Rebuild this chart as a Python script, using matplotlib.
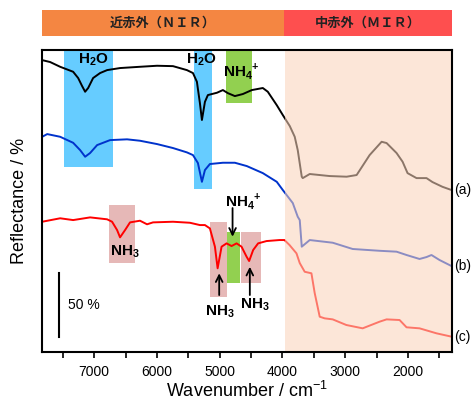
import numpy as np
import matplotlib
matplotlib.use("Agg")
import matplotlib.pyplot as plt

plt.rcParams['font.family'] = ['Liberation Sans', 'Noto Sans CJK JP']
plt.rcParams['mathtext.fontset'] = 'custom'
plt.rcParams['mathtext.rm'] = 'Liberation Sans'
plt.rcParams['mathtext.bf'] = 'Liberation Sans:bold'

# spectra (wavenumber / cm-1, reflectance in % incl. vertical offset)
wn_a = [7827, 7700, 7541, 7334, 7254, 7191, 7143, 7095, 7016, 6905, 6793, 6587,
        6269, 5998, 5744, 5522, 5426, 5363, 5315, 5283, 5235, 5188, 5044, 4949,
        4870, 4758, 4631, 4488, 4313, 4234, 4091, 3995, 3884, 3805, 3757, 3693,
        3677, 3566, 3248, 2978, 2819, 2612, 2421, 2342, 2183, 2087, 2008, 1865,
        1706, 1611, 1452, 1309]
refl_a = [228.1, 226.6, 222.9, 219.0, 214.1, 207.8, 203.4, 206.3, 214.1, 218.0,
          220.3, 221.9, 222.9, 223.7, 223.4, 220.3, 218.0, 211.2, 194.5, 181.3,
          195.5, 200.8, 202.6, 204.7, 202.3, 200.0, 201.6, 204.7, 206.3, 203.4,
          192.9, 185.2, 176.6, 168.2, 157.8, 137.0, 135.9, 139.1, 137.5, 137.0,
          138.3, 153.9, 164.3, 163.3, 155.5, 148.7, 139.8, 135.9, 135.9, 132.8,
          129.1, 126.6]

wn_b = [7827, 7747, 7541, 7334, 7223, 7143, 7064, 6952, 6746, 6475, 6269, 5998,
        5744, 5522, 5426, 5347, 5283, 5235, 5156, 4949, 4758, 4568, 4313, 4091,
        3995, 3836, 3757, 3725, 3693, 3566, 3200, 2882, 2453, 2183, 2024, 1817,
        1706, 1627, 1499, 1309]
refl_b = [168.2, 170.3, 168.2, 163.5, 157.8, 152.6, 155.5, 161.7, 165.6, 166.2,
          165.1, 162.5, 159.4, 156.0, 153.9, 147.7, 133.0, 142.2, 146.9, 147.9,
          147.9, 145.3, 139.8, 133.0, 126.6, 116.4, 105.7, 103.1, 82.3, 87.5,
          85.4, 80.5, 79.1, 78.4, 75.8, 72.7, 74.2, 75.8, 71.9, 67.2]

wn_c = [7827, 7541, 7334, 7064, 6793, 6714, 6634, 6587, 6507, 6428, 6269, 6157,
        6062, 5744, 5474, 5315, 5235, 5156, 5076, 5033, 4970, 4890, 4811, 4731,
        4652, 4572, 4531, 4467, 4388, 4254, 4048, 3968, 3888, 3777, 3725, 3646,
        3539, 3487, 3407, 3328, 3200, 2983, 2723, 2453, 2342, 2135, 2024, 1817,
        1547, 1309]
refl_c = [101.8, 104.5, 103.1, 105.2, 103.7, 101.8, 95.3, 89.6, 95.3, 101.3,
          102.6, 99.8, 101.3, 101.8, 101.0, 99.2, 99.2, 96.6, 82.3, 65.4, 82.3,
          84.9, 82.8, 84.9, 82.3, 74.5, 71.1, 79.7, 84.9, 86.7, 87.5, 87.5, 83.6,
          77.1, 69.5, 62.7, 61.5, 46.1, 27.6, 26.3, 25.5, 21.1, 18.5, 23.7, 25.5,
          25.0, 19.3, 18.5, 14.6, 12.0]

series_labels = ['(a)', '(b)', '(c)']
band_names = ['近赤外（ＮＩＲ）', '中赤外（ＭＩＲ）']
xticks = [7000, 6000, 5000, 4000, 3000, 2000]

fig = plt.figure(figsize=(4.74, 4.04), dpi=100)
ax = fig.add_axes([0.0886, 0.1287, 0.865, 0.7475])
bx = fig.add_axes([0.0886, 0.9116, 0.865, 0.0636])

x0, x1 = 7830, 1300
split = 3975

# highlight boxes
ax.fill_between([7480, 6700], 144.3, 236, color='#66CCFF', lw=0, zorder=1)
ax.fill_between([5410, 5130], 127.1, 236, color='#66CCFF', lw=0, zorder=1)
ax.fill_between([4900, 4490], 194.3, 236, color='#92D050', lw=0, zorder=1)
ax.fill_between([6762, 6348], 69.3, 114.8, color='#E6B8B7', lw=0, zorder=1)
ax.fill_between([5156, 4890], 43.2, 101.8, color='#E6B8B7', lw=0, zorder=1)
ax.fill_between([4890, 4679], 53.7, 94.0, color='#92D050', lw=0, zorder=1)
ax.fill_between([4663, 4345], 53.7, 94.0, color='#E6B8B7', lw=0, zorder=1)

ax.plot(wn_a, refl_a, color='black', lw=1.4, zorder=2)
ax.plot(wn_b, refl_b, color='#0033CC', lw=1.4, zorder=2)
ax.plot(wn_c, refl_c, color='#FF0000', lw=1.4, zorder=2)

# MIR region shading on top of the curves
ax.axvspan(3960, x1, color=(250/255, 211/255, 187/255), alpha=0.56, lw=0, zorder=3)

ax.set_xlim(x0, x1)
ax.set_ylim(0, 236)
ax.set_yticks([])
ax.set_xticks(xticks)
ax.set_xticks(np.arange(7500, 1300, -500), minor=True)
ax.tick_params(axis='x', which='both', direction='out', length=4, width=1.2,
               labelsize=10, pad=5)
for s in ax.spines.values():
    s.set_linewidth(1.5)
    s.set_zorder(10)

ax.set_xlabel('Wavenumber / cm$^{-1}$', fontsize=13, labelpad=2)
ax.set_ylabel('Reflectance / %', fontsize=13, labelpad=10)

# annotations
kw = dict(fontsize=11, fontweight='bold', ha='center', va='center', zorder=6)
ax.text(7016, 228.1, r'H$_\mathbf{2}$O', **kw)
ax.text(5288, 228.1, r'H$_\mathbf{2}$O', **kw)
ax.text(4652, 219.0, r'NH$_\mathbf{4}$$^\mathbf{+}$', **kw)
ax.text(6507, 78.4, r'NH$_\mathbf{3}$', **kw)
ax.text(4631, 117.4, r'NH$_\mathbf{4}$$^\mathbf{+}$', **kw)
ax.text(4997, 31.5, r'NH$_\mathbf{3}$', **kw)
ax.text(4440, 36.7, r'NH$_\mathbf{3}$', **kw)

ap = dict(arrowstyle='->', lw=1.3, color='black', mutation_scale=12,
          shrinkA=0, shrinkB=0)
ax.annotate('', xy=(4795, 90.1), xytext=(4795, 112.5), arrowprops=ap, zorder=6)
ax.annotate('', xy=(5008, 61.5), xytext=(5008, 44.5), arrowprops=ap, zorder=6)
ax.annotate('', xy=(4520, 66.6), xytext=(4520, 44.5), arrowprops=ap, zorder=6)

# 50 % scale bar
ax.plot([7561, 7561], [12, 62], color='black', lw=1.5, zorder=6)
ax.text(7413, 36.7, '50 %', fontsize=10, ha='left', va='center')

for lab, yv in zip(series_labels, [refl_a[-1], refl_b[-1], refl_c[-1]]):
    ax.text(1265, yv, lab, fontsize=10, ha='left', va='center', clip_on=False)

# NIR / MIR header band
bx.axvspan(x0, split, color='#F48642', lw=0)
bx.axvspan(split, x1, color='#FE4F4F', lw=0)
bx.set_xlim(x0, x1)
bx.set_ylim(0, 1)
bx.axis('off')
bx.text((x0 + split) / 2, 0.5, band_names[0], fontsize=9.5, fontweight='bold',
        family=['Noto Sans CJK JP'], ha='center', va='center', color='#222222')
bx.text((split + x1) / 2, 0.5, band_names[1], fontsize=9.5, fontweight='bold',
        family=['Noto Sans CJK JP'], ha='center', va='center', color='#222222')

fig.savefig('out.png', dpi=100)
